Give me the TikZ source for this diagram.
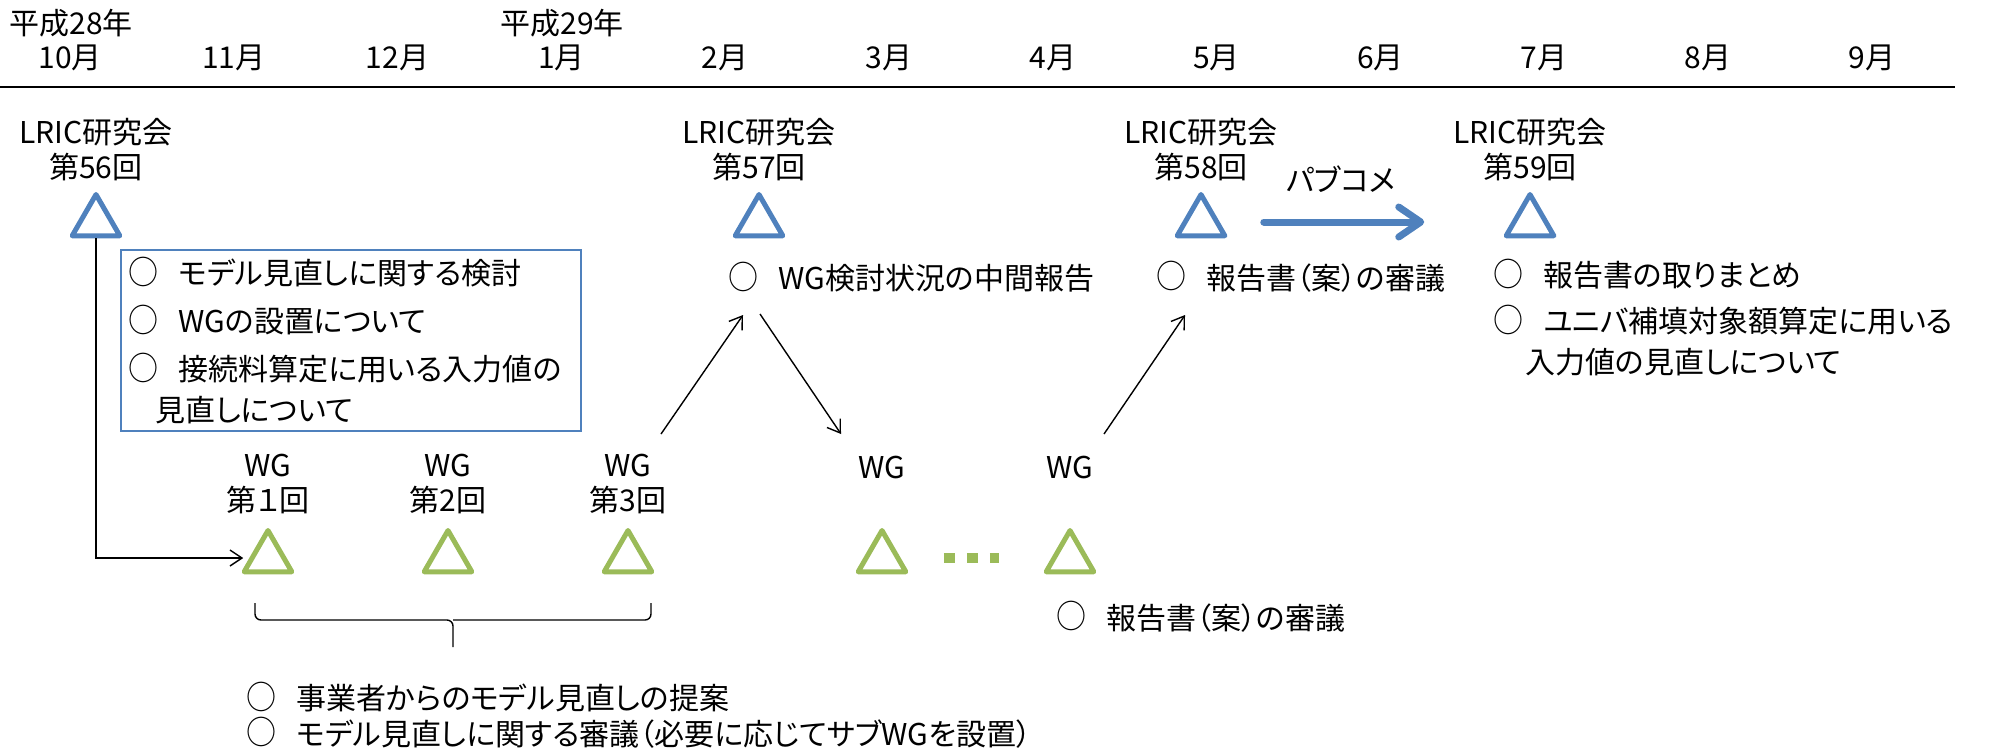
\documentclass[tikz,border=0pt]{standalone}
\usepackage{fontspec}
\usepackage{graphicx}
\setmainfont{Noto Sans CJK JP}[RawFeature=+palt]
\usetikzlibrary{shapes.geometric,arrows.meta}
\definecolor{lricblue}{RGB}{79,129,189}
\definecolor{wggreen}{RGB}{155,187,89}
\newcommand{\maru}{\hspace*{-2pt}\raisebox{0.3pt}{\scalebox{1}[1.1]{○}}\hspace{10pt}}
\tikzset{
  txt/.style={inner sep=0pt, align=center},
  memo/.style={inner sep=0pt, anchor=west},
  lric/.style={regular polygon, regular polygon sides=3, minimum size=27.5pt,
    inner sep=0pt, draw=lricblue, line width=2.5pt, line join=round},
  wg/.style={lric, draw=wggreen},
  link/.style={line width=0.7pt, -{Straight Barb[length=6pt,width=8pt]}},
  pubcom/.style={draw=lricblue, line width=3.5pt, line cap=round,
    -{Straight Barb[length=11pt,width=15pt,round]}},
  wgdots/.style={draw=wggreen, line width=5pt, dash pattern=on 5.5pt off 6pt},
}
\begin{document}
\begin{tikzpicture}[x=0.5pt, y=-0.5pt, font=\fontsize{15pt}{17.5pt}\selectfont]
\useasboundingbox (0,0) rectangle (1989,750);
% time line
\node[txt] (y28) at (71,23) {平成28年};
\node[txt] (y29) at (562,23) {平成29年};
\foreach \m [count=\i from 0] in {10,11,12,1,2,3,4,5,6,7,8,9}
  \node[txt] (m\m) at (70+163.8*\i,58) {\m{}月};
\draw[line width=1pt] (0,87) -- (1955,87);
% LRIC meetings
\foreach \n/\x in {56/96,57/759,58/1201,59/1530}{
  \node[txt] (l\n) at (\x,150) {LRIC研究会\\第\n{}回};
  \node[lric] (t\n) at (\x,222) {};
}
% WG meetings
\foreach \n/\x/\w in {1/268/１,2/448/2,3/628/3}{
  \node[txt] (wg\n) at (\x,483.5) {WG\\第\w{}回};
  \node[wg] (w\n) at (\x,558) {};
}
\node[txt] (wg4) at (882,467) {WG};
\node[wg] (w4) at (882,558) {};
\node[txt] (wg5) at (1070,467) {WG};
\node[wg] (w5) at (1070,558) {};
% notes
\node[draw=lricblue, line width=1pt, anchor=north west, inner sep=0pt,
  minimum width=230pt, minimum height=90.5pt] (box56) at (120,249) {};
\node[memo] (n56a) at (132,272) {\maru モデル見直しに関する検討};
\node[memo] (n56b) at (132,320) {\maru WGの設置について};
\node[memo] (n56c) at (132,368) {\maru 接続料算定に用いる入力値の};
\node[memo] (n56d) at (155,410) {見直しについて};
\node[memo] (n57) at (732,277) {\maru WG検討状況の中間報告};
\node[memo] (n58) at (1160,277) {\maru 報告書（案）の審議};
\node[memo] (n59a) at (1497,274) {\maru 報告書の取りまとめ};
\node[memo] (n59b) at (1497,320) {\maru ユニバ補填対象額算定に用いる};
\node[memo] (n59c) at (1525,362) {入力値の見直しについて};
\node[memo] (nw5) at (1060,617) {\maru 報告書（案）の審議};
\node[memo] (nwa) at (250,697) {\maru 事業者からのモデル見直しの提案};
\node[memo] (nwb) at (250,733) {\maru モデル見直しに関する審議（必要に応じてサブWGを設置）};
\node[txt] (pc) at (1341,179) {パブコメ};
% connectors
\draw[link, shorten >=3pt] (t56.south) |- (w1.west);
\draw[link] ([shift={(33,-49.5)}]wg3.center) -- ([shift={(11,38)}]n57.west);
\draw[link] ([shift={(28,37)}]n57.west) -- ([shift={(-41,-33)}]wg4.center);
\draw[link] ([shift={(34,-33)}]wg5.center) -- ([shift={(25,38)}]n58.west);
\draw[pubcom, shorten <=22pt, shorten >=43.5pt] (t58) -- (t59);
\draw[wgdots, shorten <=21.5pt, shorten >=26pt] (w4) -- (w5);
\draw[line width=0.7pt, rounded corners=3pt] (255,603) |- (453,620) -- (453,647)
  (651,603) |- (453,620);
\end{tikzpicture}
\end{document}
